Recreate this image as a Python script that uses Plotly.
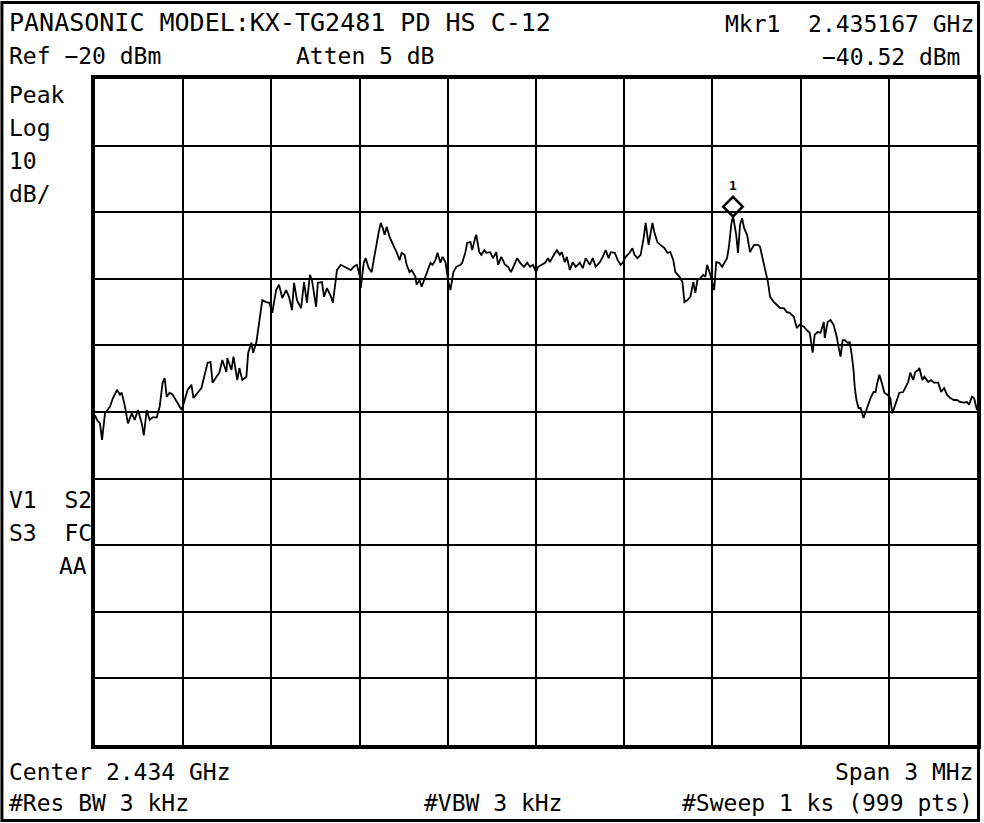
import plotly.graph_objects as go

# ---- instrument settings ----
START_GHZ = 2.4325
STOP_GHZ = 2.4355
DIV_GHZ = 0.0003
REF_DBM = -20
BOTTOM_DBM = -120
DB_PER_DIV = 10

# ---- trace: frequency offset from start (kHz) and level (dBm) ----
OFFSET_KHZ = [
    0, 7, 17, 24, 34, 51, 61, 75, 85, 91,
    102, 112, 125, 135, 146, 159, 166, 176, 186, 196,
    210, 220, 230, 237, 244, 254, 264, 278, 288, 295,
    305, 315, 328, 335, 349, 362, 373, 383, 393, 400,
    413, 423, 433, 447, 450, 464, 471, 484, 491, 501,
    515, 521, 532, 538, 549, 555, 562, 569, 582, 593,
    603, 616, 626, 637, 650, 660, 670, 677, 687, 701,
    711, 721, 731, 738, 752, 758, 772, 779, 789, 803,
    809, 819, 823, 836, 847, 857, 870, 880, 891, 901,
    904, 914, 921, 931, 941, 948, 955, 965, 972, 979,
    985, 992, 1002, 1009, 1019, 1026, 1036, 1043, 1053, 1060,
    1070, 1077, 1090, 1094, 1104, 1111, 1124, 1131, 1141, 1148,
    1158, 1165, 1175, 1182, 1192, 1202, 1209, 1219, 1229, 1243,
    1249, 1260, 1266, 1277, 1283, 1294, 1297, 1307, 1314, 1324,
    1331, 1344, 1354, 1365, 1371, 1382, 1395, 1405, 1415, 1426,
    1436, 1446, 1459, 1470, 1480, 1490, 1500, 1507, 1517, 1531,
    1541, 1547, 1561, 1571, 1581, 1588, 1598, 1605, 1615, 1625,
    1635, 1649, 1659, 1669, 1683, 1693, 1703, 1717, 1727, 1737,
    1747, 1754, 1768, 1778, 1788, 1795, 1805, 1818, 1828, 1835,
    1845, 1856, 1866, 1873, 1883, 1889, 1896, 1903, 1913, 1923,
    1937, 1947, 1957, 1967, 1974, 1988, 1998, 2005, 2015, 2025,
    2035, 2042, 2049, 2059, 2069, 2076, 2082, 2093, 2099, 2106,
    2113, 2123, 2133, 2140, 2150, 2157, 2164, 2170, 2174, 2181,
    2187, 2194, 2201, 2208, 2218, 2228, 2235, 2242, 2255, 2262,
    2272, 2279, 2289, 2296, 2309, 2319, 2330, 2343, 2353, 2363,
    2377, 2384, 2387, 2397, 2411, 2421, 2431, 2441, 2448, 2458,
    2468, 2479, 2482, 2492, 2502, 2512, 2523, 2529, 2536, 2543,
    2550, 2560, 2567, 2573, 2580, 2584, 2590, 2597, 2604, 2614,
    2621, 2631, 2638, 2648, 2655, 2661, 2668, 2678, 2685, 2695,
    2705, 2712, 2719, 2729, 2736, 2749, 2756, 2766, 2773, 2783,
    2790, 2800, 2804, 2814, 2821, 2834, 2844, 2854, 2868, 2878,
    2888, 2898, 2909, 2922, 2932, 2942, 2956, 2966, 2973, 2983,
    2990, 3000,
]

LEVEL_DBM = [
    -70.5, -71.2, -71.7, -74.2, -70.2, -69.2, -67.9, -66.7, -67.4, -67.1,
    -69.2, -71.7, -70.2, -71.2, -69.7, -71.7, -73.5, -69.7, -71.2, -70.8,
    -70.8, -69.2, -65.6, -64.9, -67.7, -67.1, -67.4, -68.5, -69.2, -69.7,
    -68.2, -66.7, -65.9, -67.9, -67.1, -66.4, -64.4, -62.6, -62.5, -65.6,
    -64.7, -64.1, -62.2, -64.0, -61.9, -63.7, -61.7, -65.2, -63.4, -65.2,
    -64.7, -61.1, -59.6, -61.1, -59.5, -57.7, -55.1, -53.2, -53.5, -53.6,
    -55.1, -51.7, -50.9, -52.9, -51.7, -52.7, -54.7, -50.6, -53.2, -54.4,
    -50.5, -53.6, -49.4, -50.2, -54.2, -50.6, -50.5, -52.7, -51.4, -52.7,
    -53.6, -50.6, -48.7, -47.9, -48.2, -48.4, -48.7, -48.2, -47.9, -49.7,
    -51.4, -47.6, -46.9, -48.4, -49.0, -47.2, -45.2, -43.0, -41.6, -42.4,
    -43.4, -42.2, -43.7, -44.5, -45.4, -46.0, -47.2, -46.1, -46.4, -47.9,
    -49.0, -48.7, -49.7, -50.9, -50.2, -51.2, -49.7, -49.0, -47.6, -47.9,
    -47.2, -46.1, -47.6, -46.7, -47.5, -50.5, -51.7, -49.0, -48.2, -47.9,
    -47.6, -46.0, -44.6, -44.5, -45.7, -43.7, -43.4, -46.0, -46.4, -45.7,
    -46.1, -46.0, -46.9, -46.0, -47.9, -46.7, -47.9, -48.2, -49.0, -47.9,
    -46.9, -47.6, -48.2, -47.6, -48.2, -47.9, -49.0, -48.2, -47.9, -47.6,
    -46.9, -47.5, -46.4, -45.7, -46.4, -46.0, -47.5, -46.7, -48.7, -47.5,
    -48.2, -47.6, -48.4, -46.9, -47.9, -46.9, -48.2, -47.5, -46.7, -45.7,
    -46.9, -46.0, -46.1, -47.2, -47.9, -47.6, -46.7, -46.1, -45.4, -46.4,
    -46.9, -46.4, -43.9, -41.6, -44.9, -43.0, -41.6, -43.1, -44.5, -44.9,
    -45.4, -46.1, -46.0, -47.2, -49.0, -49.7, -50.5, -53.5, -53.2, -52.7,
    -50.5, -52.1, -50.2, -49.9, -49.4, -49.7, -47.9, -49.4, -50.5, -51.7,
    -47.5, -47.6, -48.2, -47.6, -46.9, -44.9, -41.9, -40.5, -41.5, -43.4,
    -46.1, -41.9, -40.9, -42.4, -43.4, -46.0, -45.4, -44.9, -44.9, -45.2,
    -47.2, -48.7, -50.5, -52.7, -53.5, -53.9, -54.4, -54.4, -55.0, -55.1,
    -55.7, -56.9, -57.4, -56.9, -57.2, -57.7, -58.1, -61.1, -58.4, -58.0,
    -58.1, -56.5, -58.9, -56.5, -56.2, -56.9, -58.7, -60.2, -61.7, -59.2,
    -59.2, -59.6, -59.5, -61.1, -63.7, -66.2, -68.2, -69.4, -69.4, -70.9,
    -70.0, -68.9, -67.9, -67.0, -67.0, -65.6, -64.4, -65.9, -67.1, -67.4,
    -67.9, -70.2, -69.2, -67.9, -67.1, -67.0, -66.4, -65.5, -64.1, -65.2,
    -64.0, -63.7, -63.4, -65.2, -64.7, -65.5, -65.2, -65.6, -65.6, -67.0,
    -66.4, -67.4, -67.9, -68.2, -68.2, -68.5, -68.6, -68.5, -68.9, -67.7,
    -67.9, -69.7,
]

MKR_FREQ_GHZ = 2.43467
MKR_LEVEL_DBM = -40.52
MKR_LABEL = "1"

# ---- screen annotations ----
TITLE = "PANASONIC MODEL:KX-TG2481 PD HS C-12"
MKR_FREQ_TEXT = "Mkr1  2.435167 GHz"
REF_TEXT = "Ref \u221220 dBm"
ATTEN_TEXT = "Atten 5 dB"
MKR_LEVEL_TEXT = "\u221240.52 dBm"
LEFT_TOP = ["Peak", "Log", "10", "dB/"]
LEFT_MID = ["V1  S2", "S3  FC"]
LEFT_AA = "AA"
CENTER_TEXT = "Center 2.434 GHz"
SPAN_TEXT = "Span 3 MHz"
RBW_TEXT = "#Res BW 3 kHz"
VBW_TEXT = "#VBW 3 kHz"
SWEEP_TEXT = "#Sweep 1 ks (999 pts)"

assert len(OFFSET_KHZ) == len(LEVEL_DBM)

freq_ghz = [START_GHZ + k * 1e-6 for k in OFFSET_KHZ]

W, H = 984, 823
ML, MR, MT, MB = 95, 3, 79, 78
PW, PH = W - ML - MR, H - MT - MB


def px(x):
    return (x - ML) / PW


def py(y):
    return (H - MB - y) / PH


FONT = "DejaVu Sans Mono"
FS = 23

fig = go.Figure()
fig.add_trace(go.Scatter(
    x=freq_ghz, y=LEVEL_DBM, mode="lines",
    line=dict(color="black", width=1.8), hoverinfo="skip", showlegend=False,
))
MARKER_LIFT_DB = 1.35
fig.add_trace(go.Scatter(
    x=[MKR_FREQ_GHZ], y=[MKR_LEVEL_DBM + MARKER_LIFT_DB], mode="markers",
    marker=dict(symbol="diamond-open", size=15, color="black", line=dict(width=2.6, color="black")),
    showlegend=False, hoverinfo="skip",
))

ann = []


def text(s, x, y, anchor="left", size=FS):
    ann.append(dict(text=s, x=px(x), y=py(y), xref="paper", yref="paper",
                    xanchor=anchor, yanchor="middle", showarrow=False,
                    font=dict(family=FONT, size=size, color="black"), borderpad=0))


text(TITLE, 8, 23, size=25)
text(MKR_FREQ_TEXT, 727, 24)
text(REF_TEXT, 8, 56)
text(ATTEN_TEXT, 296, 56)
text(MKR_LEVEL_TEXT, 824, 57)
for i, s in enumerate(LEFT_TOP):
    text(s, 8, 95 + i * 33)
for i, s in enumerate(LEFT_MID):
    text(s, 8, 500 + i * 33)
text(LEFT_AA, 88, 566, anchor="right")
text(CENTER_TEXT, 8, 772)
text(SPAN_TEXT, 978, 772, anchor="right")
text(RBW_TEXT, 8, 803)
text(VBW_TEXT, 424, 803)
text(SWEEP_TEXT, 978, 803, anchor="right")

ann.append(dict(text="<b>" + MKR_LABEL + "</b>", x=MKR_FREQ_GHZ, y=MKR_LEVEL_DBM,
                xref="x", yref="y", showarrow=False, yshift=30,
                font=dict(family=FONT, size=13, color="black")))

axis_common = dict(showgrid=True, gridcolor="black", gridwidth=2, showticklabels=False,
                   ticks="", zeroline=False, showline=True, mirror=True,
                   linecolor="black", linewidth=4)

fig.update_layout(
    width=W, height=H,
    margin=dict(l=ML, r=MR, t=MT, b=MB, pad=0),
    paper_bgcolor="white", plot_bgcolor="white",
    xaxis=dict(range=[START_GHZ, STOP_GHZ], tick0=START_GHZ, dtick=DIV_GHZ, **axis_common),
    yaxis=dict(range=[BOTTOM_DBM, REF_DBM], tick0=BOTTOM_DBM, dtick=DB_PER_DIV, **axis_common),
    annotations=ann,
    shapes=[dict(type="rect", xref="paper", yref="paper",
                 x0=px(1.5), x1=px(982.5), y0=py(820.5), y1=py(2.5),
                 line=dict(color="black", width=3), layer="above")],
    showlegend=False,
)

fig.write_html(
    "out.html",
    config={"displayModeBar": False},
    post_script="document.body.style.margin='0';document.body.style.padding='0';"
                "document.body.style.overflow='hidden';",
)
